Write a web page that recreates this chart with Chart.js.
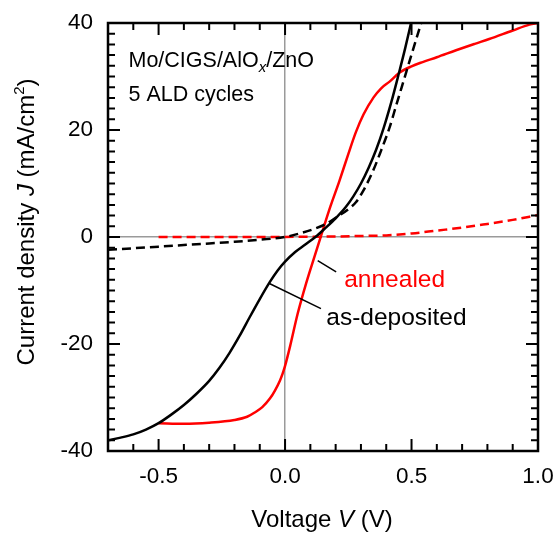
<!DOCTYPE html>
<html>
<head>
<meta charset="utf-8">
<script src="https://cdn.jsdelivr.net/npm/chart.js@4"></script>
<style>
  html, body { margin: 0; padding: 0; background: #fff; }
  canvas { display: block; }
</style>
</head>
<body>
<canvas id="ivChart" width="554" height="533"></canvas>
<script>
// as-deposited, under light (solid black)
var asDepLightV = [-0.70, -0.65, -0.60, -0.55, -0.50, -0.45, -0.40, -0.35, -0.30, -0.26, -0.22, -0.18, -0.14, -0.10, -0.06, -0.03, 0.00, 0.04, 0.08, 0.12, 0.16, 0.20, 0.24, 0.27, 0.30, 0.33, 0.36, 0.39, 0.42, 0.45, 0.475, 0.498];
var asDepLightJ = [-38.0, -37.5, -36.9, -36.0, -34.8, -33.2, -31.4, -29.3, -26.9, -24.5, -21.7, -18.5, -15.0, -11.6, -8.4, -6.3, -4.6, -2.8, -1.4, 0.0, 1.7, 3.5, 5.6, 7.6, 10.0, 12.9, 16.3, 20.4, 25.2, 30.6, 35.3, 40.0];

// as-deposited, dark (dashed black)
var asDepDarkV = [-0.70, -0.60, -0.50, -0.40, -0.30, -0.20, -0.10, 0.00, 0.06, 0.12, 0.16, 0.20, 0.25, 0.28, 0.31, 0.35, 0.38, 0.412, 0.44, 0.47, 0.50, 0.52, 0.538];
var asDepDarkJ = [-2.4, -2.1, -1.8, -1.5, -1.2, -0.9, -0.5, 0.0, 0.7, 1.6, 2.4, 3.6, 5.2, 6.5, 8.7, 12.6, 16.2, 20.3, 24.7, 29.4, 34.1, 37.2, 40.0];

// annealed, under light (solid red)
var annLightV = [-0.50, -0.40, -0.30, -0.20, -0.15, -0.12, -0.09, -0.06, -0.04, -0.02, -0.01, 0.00, 0.02, 0.05, 0.083, 0.116, 0.15, 0.18, 0.215, 0.25, 0.28, 0.31, 0.35, 0.38, 0.412, 0.452, 0.50, 0.544, 0.60, 0.676, 0.75, 0.807, 0.90, 0.966, 1.00];
var annLightJ = [-34.8, -34.9, -34.7, -34.2, -33.6, -32.8, -31.8, -30.2, -28.7, -26.8, -25.6, -24.1, -20.4, -14.3, -8.7, -3.7, 1.4, 5.8, 10.5, 15.5, 19.6, 22.9, 26.1, 27.8, 29.0, 30.7, 31.9, 32.7, 33.6, 34.9, 36.1, 37.0, 38.6, 39.7, 40.0];

// annealed, dark (dashed red)
var annDarkV = [-0.50, -0.30, -0.10, 0.10, 0.20, 0.30, 0.40, 0.50, 0.60, 0.70, 0.80, 0.90, 1.00];
var annDarkJ = [0.0, 0.0, 0.0, 0.05, 0.1, 0.2, 0.3, 0.65, 1.2, 1.75, 2.45, 3.2, 4.1];

var xTickValues = [-0.5, 0.0, 0.5, 1.0];
var yTickValues = [-40, -20, 0, 20, 40];

var FONT = "'Liberation Sans', Arial, sans-serif";

function toPoints(xs, ys) {
    return xs.map(function (v, i) { return { x: v, y: ys[i] }; });
}

// draw a line of text made of pieces with their own font / offset
function drawRuns(ctx, runs, x, y, align) {
    var total = 0;
    runs.forEach(function (r) { ctx.font = r.font; total += ctx.measureText(r.text).width; });
    var cx = align === 'center' ? x - total / 2 : x;
    runs.forEach(function (r) {
        ctx.font = r.font;
        ctx.fillText(r.text, cx, y + (r.dy || 0));
        cx += ctx.measureText(r.text).width;
    });
}

function zeroLine(c) {
    return (c.tick && c.tick.value === 0) ? '#9a9a9a' : 'rgba(0,0,0,0)';
}

var framePlugin = {
    id: 'frame',
    afterDatasetsDraw: function (chart) {
        // inward ticks, x every 0.1 (major 0.5), y every 2 (major 20)
        var ctx = chart.ctx, a = chart.chartArea;
        var xs = chart.scales.x, ys = chart.scales.y;
        ctx.save();
        ctx.strokeStyle = '#000';
        ctx.lineWidth = 2;
        ctx.beginPath();
        for (var i = -7; i <= 10; i++) {
            var px = xs.getPixelForValue(i / 10);
            var len = (i % 5 === 0) ? 12 : 7;
            ctx.moveTo(px, a.top); ctx.lineTo(px, a.top + len);
            ctx.moveTo(px, a.bottom); ctx.lineTo(px, a.bottom - len);
        }
        for (var k = -20; k <= 20; k++) {
            var py = ys.getPixelForValue(k * 2);
            var tl = (k % 10 === 0) ? 12 : 7;
            ctx.moveTo(a.left, py); ctx.lineTo(a.left + tl, py);
            ctx.moveTo(a.right, py); ctx.lineTo(a.right - tl, py);
        }
        ctx.stroke();
        ctx.restore();
    },
    afterDraw: function (chart) {
        var ctx = chart.ctx, a = chart.chartArea;
        var xs = chart.scales.x, ys = chart.scales.y;
        ctx.save();
        ctx.strokeStyle = '#000';
        ctx.lineWidth = 2.5;
        ctx.strokeRect(a.left, a.top, a.right - a.left, a.bottom - a.top);

        // leader lines
        ctx.lineWidth = 1.5;
        ctx.beginPath();
        ctx.moveTo(xs.getPixelForValue(0.129), ys.getPixelForValue(-4.4));
        ctx.lineTo(xs.getPixelForValue(0.202), ys.getPixelForValue(-6.5));
        ctx.moveTo(xs.getPixelForValue(-0.062), ys.getPixelForValue(-8.7));
        ctx.lineTo(xs.getPixelForValue(0.142), ys.getPixelForValue(-13.4));
        ctx.stroke();

        ctx.textBaseline = 'alphabetic';
        ctx.textAlign = 'left';
        ctx.fillStyle = '#ff0000';
        ctx.font = '24.5px ' + FONT;
        ctx.fillText('annealed', xs.getPixelForValue(0.234), ys.getPixelForValue(-9.4));
        ctx.fillStyle = '#000';
        ctx.fillText('as-deposited', xs.getPixelForValue(0.163), ys.getPixelForValue(-16.5));

        var tx = xs.getPixelForValue(-0.619);
        drawRuns(ctx, [
            { text: 'Mo/CIGS/AlO', font: '21.5px ' + FONT },
            { text: 'x', font: 'italic 15px ' + FONT, dy: 5 },
            { text: '/ZnO', font: '21.5px ' + FONT }
        ], tx, ys.getPixelForValue(31.7), 'left');
        ctx.font = '21.5px ' + FONT;
        ctx.fillText('5 ALD cycles', tx, ys.getPixelForValue(25.5));

        drawRuns(ctx, [
            { text: 'Voltage ', font: '24px ' + FONT },
            { text: 'V', font: 'italic 24px ' + FONT },
            { text: ' (V)', font: '24px ' + FONT }
        ], 322, 527, 'center');

        ctx.translate(34, 222);
        ctx.rotate(-Math.PI / 2);
        drawRuns(ctx, [
            { text: 'Current density ', font: '24px ' + FONT },
            { text: 'J', font: 'italic 24px ' + FONT },
            { text: ' (mA/cm', font: '24px ' + FONT },
            { text: '2', font: '15px ' + FONT, dy: -10 },
            { text: ')', font: '24px ' + FONT }
        ], 0, 0, 'center');
        ctx.restore();
    }
};

new Chart(document.getElementById('ivChart'), {
    type: 'scatter',
    data: {
        datasets: [{
            data: toPoints(asDepDarkV, asDepDarkJ),
            borderColor: '#000',
            borderDash: [9, 5]
        }, {
            data: toPoints(asDepLightV, asDepLightJ),
            borderColor: '#000'
        }, {
            data: toPoints(annDarkV, annDarkJ),
            borderColor: '#ff0000',
            borderDash: [9, 5]
        }, {
            data: toPoints(annLightV, annLightJ),
            borderColor: '#ff0000'
        }]
    },
    options: {
        responsive: false,
        animation: false,
        events: [],
        layout: { padding: { top: 23, right: 16, bottom: 0, left: 0 } },
        datasets: {
            scatter: {
                showLine: true,
                pointRadius: 0,
                borderWidth: 2.5,
                fill: false,
                cubicInterpolationMode: 'monotone'
            }
        },
        plugins: {
            legend: { display: false },
            tooltip: { enabled: false }
        },
        scales: {
            x: {
                type: 'linear',
                min: -0.7,
                max: 1.0,
                grid: { display: true, drawTicks: false, color: zeroLine, lineWidth: 1.5 },
                border: { display: false },
                afterBuildTicks: function (s) {
                    s.ticks = xTickValues.map(function (v) { return { value: v }; });
                },
                afterFit: function (s) {
                    s.height = 82;
                    s.paddingLeft = 0;
                    s.paddingRight = 0;
                },
                ticks: {
                    autoSkip: false,
                    maxRotation: 0,
                    padding: 12,
                    color: '#000',
                    font: { family: FONT, size: 22.5 },
                    callback: function (v) { return Number(v).toFixed(1); }
                }
            },
            y: {
                type: 'linear',
                min: -40,
                max: 40,
                grid: { display: true, drawTicks: false, color: zeroLine, lineWidth: 1.5 },
                border: { display: false },
                afterBuildTicks: function (s) {
                    s.ticks = yTickValues.map(function (v) { return { value: v }; });
                },
                afterFit: function (s) {
                    s.width = 108;
                    s.paddingTop = 0;
                    s.paddingBottom = 0;
                },
                ticks: {
                    autoSkip: false,
                    padding: 15,
                    color: '#000',
                    font: { family: FONT, size: 22.5 }
                }
            }
        }
    },
    plugins: [framePlugin]
});
</script>
</body>
</html>
